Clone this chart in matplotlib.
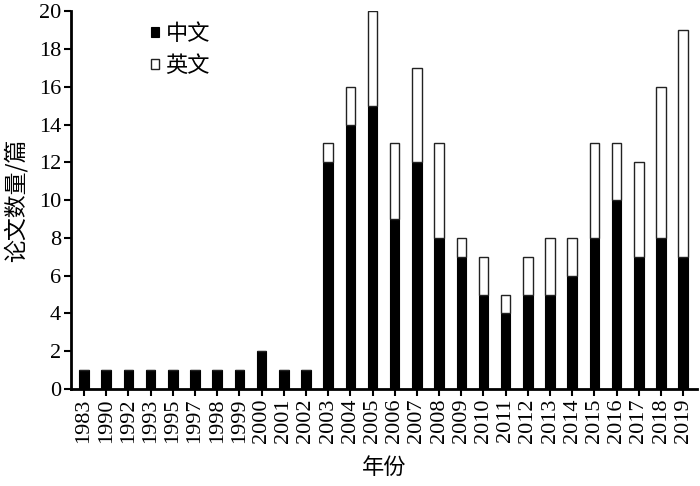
import matplotlib
matplotlib.use("Agg")
import matplotlib.pyplot as plt
import numpy as np

years = ["1983", "1990", "1992", "1993", "1995", "1997", "1998", "1999", "2000",
         "2001", "2002", "2003", "2004", "2005", "2006", "2007", "2008", "2009",
         "2010", "2011", "2012", "2013", "2014", "2015", "2016", "2017", "2018", "2019"]
chinese = [1, 1, 1, 1, 1, 1, 1, 1, 2, 1, 1, 12, 14, 15, 9, 12, 8, 7, 5, 4, 5, 5, 6, 8, 10, 7, 8, 7]
english = [0, 0, 0, 0, 0, 0, 0, 0, 0, 0, 0, 1, 2, 5, 4, 5, 5, 1, 2, 1, 2, 3, 2, 5, 3, 5, 8, 12]
yticks = [0, 2, 4, 6, 8, 10, 12, 14, 16, 18, 20]

serif = ["Liberation Serif", "DejaVu Serif"]
cjk = ["Noto Sans CJK SC", "DejaVu Sans"]

fig = plt.figure(figsize=(7.0, 4.86), dpi=100)
ax = fig.add_axes([0.101, 0.1996, 0.895, 0.7774])

x = np.arange(len(years))
w = 0.43
ax.bar(x, chinese, width=w, color="black", edgecolor="black", linewidth=0.8, label="中文")
ax.bar(x, english, width=w, bottom=chinese, color="white", edgecolor="#222222",
       linewidth=1.0, label="英文")

ax.set_xlim(-0.6, len(years) - 1 + 0.63)
ax.set_ylim(0, 20)
ax.set_yticks(yticks)
ax.set_yticklabels([str(v) for v in yticks], fontfamily=serif, fontsize=16)
ax.set_xticks(x)
ax.set_xticklabels(years, rotation=90, fontfamily=serif, fontsize=16)

for s in ["top", "right"]:
    ax.spines[s].set_visible(False)
for s in ["left", "bottom"]:
    ax.spines[s].set_linewidth(2.0)
ax.tick_params(axis="both", direction="out", length=5, width=1.5, pad=2)

ax.set_ylabel("论文数量/篇", fontfamily=cjk, fontsize=16.5, labelpad=8)
ax.set_xlabel("年份", fontfamily=cjk, fontsize=16, labelpad=9)

ax.legend(loc="upper left", bbox_to_anchor=(0.097, 1.025), frameon=False,
          prop={"family": cjk, "size": 16}, handlelength=0.33, handleheight=0.33,
          handletextpad=0.3, labelspacing=0.4)

fig.savefig("out.png", dpi=100)
